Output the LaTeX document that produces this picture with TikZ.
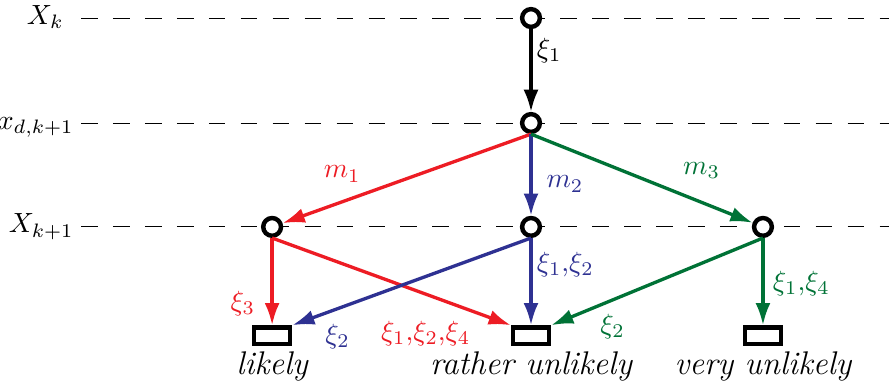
\documentclass[tikz,border=0pt]{standalone}
\usepackage{amsmath}
\usetikzlibrary{arrows.meta,positioning}
\definecolor{routeRed}{RGB}{237,28,36}
\definecolor{routeBlue}{RGB}{46,49,146}
\definecolor{routeGreen}{RGB}{0,114,54}

\begin{document}
\begin{tikzpicture}[x=0.36pt,y=-0.36pt,on grid,
  state/.style={draw,circle,line width=1.6pt,fill=white,inner sep=0pt,minimum size=6.4pt},
  leaf/.style={draw,line width=1.6pt,fill=white,inner sep=0pt,minimum width=12.9pt,minimum height=6pt},
  word/.style={inner sep=1pt,font=\fontsize{11.8}{14}\selectfont\itshape},
  level/.style={anchor=mid east,inner sep=1pt,font=\fontsize{10}{12}\selectfont},
  guide/.style={dash pattern=on 6pt off 5.5pt,line width=0.35pt},
  lbl/.style={inner sep=1.5pt},
  arrow/.style={-{Latex[length=8pt,width=5.4pt]},line width=1.2pt}
]
  \useasboundingbox (0,0) rectangle (889,383);

  % levels
  \coordinate (gl) at (81,18);
  \coordinate (gr) at (889,18);
  \coordinate (tl) at (77,18);
  \coordinate (tk) at (67,18);
  \draw[guide] (gl) -- (gr);
  \draw[guide] ([yshift=-37.8pt]gl) -- ([yshift=-37.8pt]gr);
  \draw[guide] ([yshift=-75.2pt]gl) -- ([yshift=-75.2pt]gr);

  % states
  \node[state] (top) at (531,18) {};
  \node[state,below=37.8pt of top] (mid) {};
  \node[state,below=37.4pt of mid] (mBlue) {};
  \node[state,left=93.2pt of mBlue] (mRed) {};
  \node[state,right=83.5pt of mBlue] (mGreen) {};

  \node[level] (lTop) at (tk |- top) {$X_k$};
  \node[level] (lMid) at (tl |- mid) {$x_{d,k+1}$};
  \node[level] (lBot) at (tl |- mBlue) {$X_{k+1}$};

  % outcomes
  \node[leaf,below=39.2pt of mRed] (likely) {};
  \node[leaf,below=39.2pt of mBlue] (rather) {};
  \node[leaf,below=39.2pt of mGreen] (very) {};
  \node[word,below=11.2pt of likely] (wLikely) {likely};
  \node[word,below=11.2pt of rather] (wRather) {rather unlikely};
  \node[word,below=11.2pt of very] (wVery) {very unlikely};

  \draw[arrow] (top.south) -- node[lbl,right,pos=.26]{$\xi_1$} (mid);

  \draw[arrow,routeRed] (mid.south) -- node[lbl,above=5pt,pos=.76]{$m_1$} (mRed);
  \draw[arrow,routeBlue] (mid.south) -- node[lbl,right=3.5pt,pos=.61]{$m_2$} (mBlue);
  \draw[arrow,routeGreen] (mid.south) -- node[lbl,above=6.5pt,pos=.77]{$m_3$} (mGreen);

  \draw[arrow,routeRed] (mRed.south) -- node[lbl,left=4pt,pos=.75]{$\xi_3$} (likely);
  \draw[arrow,routeRed] (mRed.south) -- node[lbl,left=12.5pt,yshift=-3pt,pos=1]{$\xi_1$,$\xi_2$,$\xi_4$} (rather.north west);
  \draw[arrow,routeBlue] (mBlue.south) -- node[lbl,below=3.5pt,pos=.81]{$\xi_2$} (likely.north east);
  \draw[arrow,routeBlue] (mBlue.south) -- node[lbl,right,pos=.3]{$\xi_1$,$\xi_2$} (rather);
  \draw[arrow,routeGreen] (mGreen.south) -- node[lbl,below=3pt,pos=.71]{$\xi_2$} (rather.north east);
  \draw[arrow,routeGreen] (mGreen.south) -- node[lbl,right=1.5pt,pos=.52]{$\xi_1$,$\xi_4$} (very);
\end{tikzpicture}
\end{document}
